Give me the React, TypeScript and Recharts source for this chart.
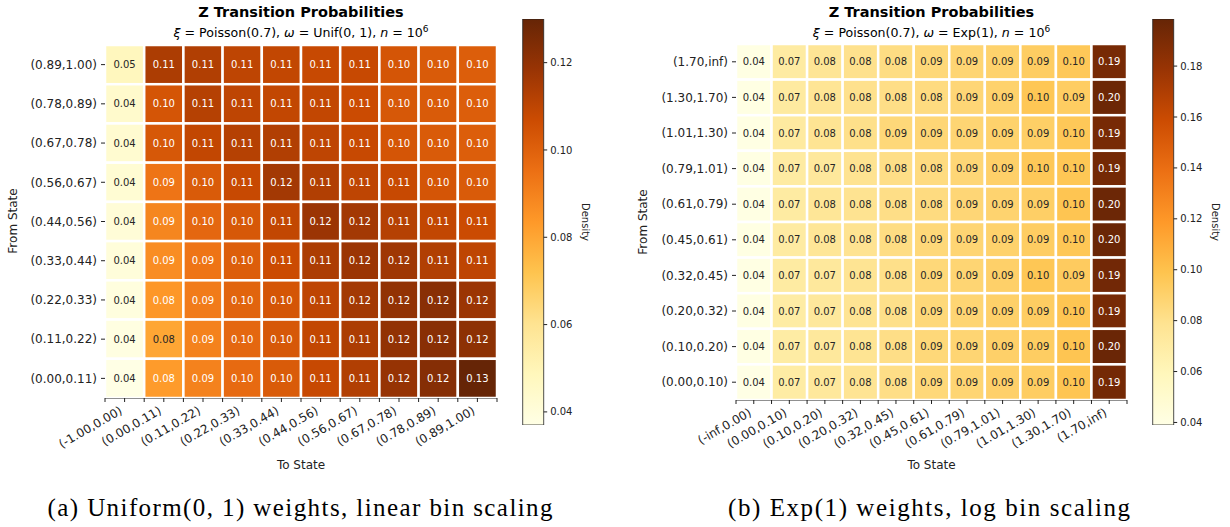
import React from 'react';
import { ScatterChart, Scatter, XAxis, YAxis, ReferenceLine, BarChart, Bar } from 'recharts';

const FONT = 'DejaVu Sans, sans-serif';
const INK = '#222';

// matplotlib YlOrBr stops, low -> high
const ylOrBr = ['#ffffe5', '#fff7bc', '#fee391', '#fec44f', '#fe9929', '#ec7014', '#cc4c02', '#993404', '#662506'];

// (a) Uniform(0,1) weights, linear bins
const uniformToStates = ['(-1.00,0.00)', '(0.00,0.11)', '(0.11,0.22)', '(0.22,0.33)', '(0.33,0.44)', '(0.44,0.56)', '(0.56,0.67)', '(0.67,0.78)', '(0.78,0.89)', '(0.89,1.00)'];
// top row first
const uniformFromStates = ['(0.89,1.00)', '(0.78,0.89)', '(0.67,0.78)', '(0.56,0.67)', '(0.44,0.56)', '(0.33,0.44)', '(0.22,0.33)', '(0.11,0.22)', '(0.00,0.11)'];
const uniformProbs = [
  [0.048, 0.114, 0.113, 0.110, 0.109, 0.108, 0.108, 0.104, 0.102, 0.101],
  [0.044, 0.104, 0.112, 0.110, 0.109, 0.109, 0.107, 0.103, 0.102, 0.101],
  [0.043, 0.103, 0.109, 0.112, 0.113, 0.110, 0.108, 0.104, 0.102, 0.101],
  [0.042, 0.094, 0.102, 0.108, 0.116, 0.113, 0.110, 0.108, 0.104, 0.102],
  [0.041, 0.089, 0.098, 0.103, 0.109, 0.118, 0.116, 0.112, 0.109, 0.107],
  [0.040, 0.087, 0.094, 0.101, 0.107, 0.114, 0.118, 0.117, 0.113, 0.110],
  [0.039, 0.084, 0.092, 0.099, 0.104, 0.110, 0.116, 0.120, 0.122, 0.118],
  [0.038, 0.080, 0.090, 0.098, 0.103, 0.109, 0.114, 0.120, 0.122, 0.121],
  [0.037, 0.083, 0.090, 0.097, 0.102, 0.108, 0.113, 0.119, 0.123, 0.130],
];
const uniformRange = [0.037, 0.130];
const uniformBarTicks = [0.04, 0.06, 0.08, 0.1, 0.12];

// (b) Exp(1) weights, log bins
const expToStates = ['(-inf,0.00)', '(0.00,0.10)', '(0.10,0.20)', '(0.20,0.32)', '(0.32,0.45)', '(0.45,0.61)', '(0.61,0.79)', '(0.79,1.01)', '(1.01,1.30)', '(1.30,1.70)', '(1.70,inf)'];
const expFromStates = ['(1.70,inf)', '(1.30,1.70)', '(1.01,1.30)', '(0.79,1.01)', '(0.61,0.79)', '(0.45,0.61)', '(0.32,0.45)', '(0.20,0.32)', '(0.10,0.20)', '(0.00,0.10)'];
const expProbs = [
  [0.040, 0.071, 0.077, 0.080, 0.083, 0.086, 0.088, 0.090, 0.093, 0.096, 0.192],
  [0.040, 0.072, 0.077, 0.080, 0.082, 0.084, 0.087, 0.090, 0.097, 0.093, 0.196],
  [0.040, 0.072, 0.078, 0.081, 0.086, 0.087, 0.088, 0.090, 0.092, 0.096, 0.192],
  [0.040, 0.071, 0.074, 0.079, 0.082, 0.084, 0.087, 0.091, 0.096, 0.097, 0.193],
  [0.040, 0.071, 0.076, 0.079, 0.082, 0.084, 0.087, 0.089, 0.092, 0.098, 0.196],
  [0.040, 0.071, 0.076, 0.079, 0.083, 0.086, 0.088, 0.090, 0.093, 0.097, 0.197],
  [0.040, 0.071, 0.074, 0.078, 0.081, 0.086, 0.088, 0.091, 0.097, 0.094, 0.194],
  [0.040, 0.070, 0.074, 0.078, 0.081, 0.086, 0.088, 0.091, 0.093, 0.098, 0.192],
  [0.040, 0.070, 0.074, 0.078, 0.082, 0.086, 0.088, 0.091, 0.093, 0.098, 0.197],
  [0.039, 0.070, 0.074, 0.078, 0.082, 0.086, 0.088, 0.091, 0.093, 0.098, 0.193],
];
const expRange = [0.039, 0.1985];
const expBarTicks = [0.04, 0.06, 0.08, 0.1, 0.12, 0.14, 0.16, 0.18];

const hexToRgb = (h: string) => [1, 3, 5].map((i) => parseInt(h.slice(i, i + 2), 16));

const colorFor = (v: number, range: number[]) => {
  const t = Math.min(1, Math.max(0, (v - range[0]) / (range[1] - range[0])));
  const pos = t * (ylOrBr.length - 1);
  const i = Math.min(ylOrBr.length - 2, Math.floor(pos));
  const f = pos - i;
  const a = hexToRgb(ylOrBr[i]);
  const b = hexToRgb(ylOrBr[i + 1]);
  const c = a.map((x, k) => Math.round(x + (b[k] - x) * f));
  return `rgb(${c[0]},${c[1]},${c[2]})`;
};

// seaborn-style annotation colour from luminance
const textColor = (rgb: string) => {
  const c = rgb.match(/\d+/g)!.map(Number).map((x) => {
    const s = x / 255;
    return s <= 0.03928 ? s / 12.92 : Math.pow((s + 0.055) / 1.055, 2.4);
  });
  const lum = 0.2126 * c[0] + 0.7152 * c[1] + 0.0722 * c[2];
  return lum > 0.45 ? '#262626' : '#ffffff';
};

interface HeatmapProps {
  cols: string[];
  rows: string[];
  values: number[][];
  range: number[];
  width: number;
  height: number;
  top: number;
  right: number;
  yAxisWidth: number;
  xAxisHeight: number;
}

const Heatmap: React.FC<HeatmapProps> = ({ cols, rows, values, range, width, height, top, right, yAxisWidth, xAxisHeight }) => {
  const nR = rows.length;
  const nC = cols.length;
  const cellW = (width - right - yAxisWidth) / nC;
  const cellH = (height - top - xAxisHeight) / nR;
  const cells = values.flatMap((row, r) => row.map((v, c) => ({ x: c, y: nR - 1 - r, v })));
  const xTicks = Array.from({ length: 2 * nC + 1 }, (_, i) => i / 2 - 0.5);
  const yTicks = rows.map((_, i) => i);

  const renderCell = (props: any) => {
    const { cx, cy, payload } = props;
    const fill = colorFor(payload.v, range);
    return (
      <g>
        <rect x={cx - cellW / 2} y={cy - cellH / 2} width={cellW} height={cellH} fill={fill} stroke="#fff" strokeWidth={2.5} />
        <text x={cx} y={cy} dy="0.36em" textAnchor="middle" fontSize={10} fontFamily={FONT} fill={textColor(fill)}>
          {payload.v.toFixed(2)}
        </text>
      </g>
    );
  };

  const renderXTick = (props: any) => {
    const { x, y, payload } = props;
    const i = payload.value;
    if (!Number.isInteger(i)) return <g />;
    const px = x - 1.5;
    const py = y + 9;
    return (
      <text x={px} y={py} textAnchor="end" transform={`rotate(-30, ${px}, ${py})`} fontSize={12} fontFamily={FONT} fill={INK}>
        {cols[i]}
      </text>
    );
  };

  return (
    <ScatterChart width={width} height={height} margin={{ top, right, bottom: 0, left: 0 }}>
      <XAxis
        type="number"
        dataKey="x"
        domain={[-0.5, nC - 0.5]}
        ticks={xTicks}
        interval={0}
        height={xAxisHeight}
        tickSize={4}
        tick={renderXTick}
        axisLine={{ stroke: INK, strokeWidth: 1.2 }}
        tickLine={{ stroke: INK }}
        allowDataOverflow
      />
      <YAxis
        type="number"
        dataKey="y"
        domain={[-0.5, nR - 0.5]}
        ticks={yTicks}
        interval={0}
        width={yAxisWidth}
        tickSize={4}
        tickMargin={4}
        axisLine={false}
        tickLine={{ stroke: INK }}
        tickFormatter={(i: number) => rows[nR - 1 - i]}
        tick={{ fontSize: 12, fill: INK, fontFamily: FONT }}
        allowDataOverflow
      />
      <Scatter data={cells} shape={renderCell} isAnimationActive={false} />
      <ReferenceLine x={0.5} stroke={INK} strokeWidth={1.6} />
    </ScatterChart>
  );
};

const ColorBar: React.FC<{ id: string; range: number[]; ticks: number[] }> = ({ id, range, ticks }) => {
  const data = [{ name: 'density', span: range }];
  return (
    <BarChart width={110} height={440} data={data} margin={{ top: 19, right: 16.3, bottom: 15, left: 22.7 }} barCategoryGap={0}>
      <defs>
        <linearGradient id={id} x1="0" y1="1" x2="0" y2="0">
          {ylOrBr.map((c, i) => (
            <stop key={i} offset={i / (ylOrBr.length - 1)} stopColor={c} />
          ))}
        </linearGradient>
      </defs>
      <XAxis dataKey="name" hide />
      <YAxis
        orientation="right"
        type="number"
        domain={range}
        ticks={ticks}
        interval={0}
        width={50}
        tickSize={3.5}
        tickMargin={3}
        axisLine={false}
        tickLine={{ stroke: INK }}
        tick={{ fontSize: 10, fill: INK, fontFamily: FONT }}
        tickFormatter={(v: number) => v.toFixed(2)}
        allowDataOverflow
      />
      <Bar dataKey="span" fill={`url(#${id})`} stroke={INK} strokeWidth={0.8} isAnimationActive={false} />
    </BarChart>
  );
};

const Subtitle: React.FC<{ x: number; y: number; weight: string }> = ({ x, y, weight }) => (
  <text x={x} y={y} textAnchor="middle" fontSize={12.6} fontFamily={FONT} fill="#000">
    <tspan fontStyle="italic">ξ</tspan> = Poisson(0.7), <tspan fontStyle="italic">ω</tspan> = {weight},{' '}
    <tspan fontStyle="italic">n</tspan> = 10
    <tspan dy={-5} fontSize={9}>6</tspan>
  </text>
);

export default function App() {
  return (
    <div style={{ position: 'absolute', left: 0, top: 0, width: 1230, height: 527, background: '#fff' }}>
      <div style={{ position: 'absolute', left: 0, top: 0 }}>
        <Heatmap cols={uniformToStates} rows={uniformFromStates} values={uniformProbs} range={uniformRange}
          width={520} height={470} top={45} right={23} yAxisWidth={105} xAxisHeight={72} />
      </div>
      <div style={{ position: 'absolute', left: 500, top: 0 }}>
        <ColorBar id="cbUniform" range={uniformRange} ticks={uniformBarTicks} />
      </div>
      <div style={{ position: 'absolute', left: 620, top: 0 }}>
        <Heatmap cols={expToStates} rows={expFromStates} values={expProbs} range={expRange}
          width={530} height={470} top={44} right={23} yAxisWidth={116} xAxisHeight={70} />
      </div>
      <div style={{ position: 'absolute', left: 1130, top: 0 }}>
        <ColorBar id="cbExp" range={expRange} ticks={expBarTicks} />
      </div>
      <svg width={1230} height={527} style={{ position: 'absolute', left: 0, top: 0, pointerEvents: 'none' }}>
        <text x={301} y={17} textAnchor="middle" fontSize={14.5} fontWeight="bold" fontFamily={FONT} fill="#000">Z Transition Probabilities</text>
        <Subtitle x={301} y={37} weight="Unif(0, 1)" />
        <text x={931.5} y={17} textAnchor="middle" fontSize={14.5} fontWeight="bold" fontFamily={FONT} fill="#000">Z Transition Probabilities</text>
        <Subtitle x={931.5} y={37} weight="Exp(1)" />

        <text x={13} y={221} dy="0.35em" textAnchor="middle" transform="rotate(-90, 13, 221)" fontSize={12} fontFamily={FONT} fill={INK}>From State</text>
        <text x={643} y={222} dy="0.35em" textAnchor="middle" transform="rotate(-90, 643, 222)" fontSize={12} fontFamily={FONT} fill={INK}>From State</text>
        <text x={301} y={469} textAnchor="middle" fontSize={12} fontFamily={FONT} fill={INK}>To State</text>
        <text x={931.5} y={469} textAnchor="middle" fontSize={12} fontFamily={FONT} fill={INK}>To State</text>

        <text x={585} y={222} dy="0.35em" textAnchor="middle" transform="rotate(90, 585, 222)" fontSize={10} fontFamily={FONT} fill={INK}>Density</text>
        <text x={1215} y={222} dy="0.35em" textAnchor="middle" transform="rotate(90, 1215, 222)" fontSize={10} fontFamily={FONT} fill={INK}>Density</text>

        <text x={300} y={516} textAnchor="middle" fontSize={25} fontFamily="'Liberation Serif', serif" fill="#000" textLength={505} lengthAdjust="spacing">
          (a) Uniform(0, 1) weights, linear bin scaling
        </text>
        <text x={929} y={516} textAnchor="middle" fontSize={25} fontFamily="'Liberation Serif', serif" fill="#000" textLength={402} lengthAdjust="spacing">
          (b) Exp(1) weights, log bin scaling
        </text>
      </svg>
    </div>
  );
}
